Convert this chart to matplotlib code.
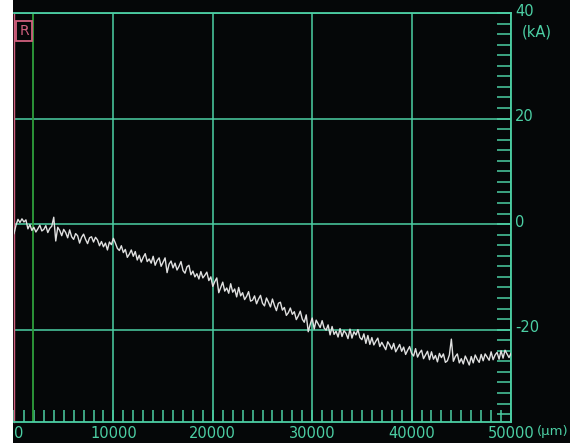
import numpy as np
import matplotlib.pyplot as plt
from matplotlib.patches import Rectangle
import matplotlib.transforms as mtransforms

# profile, one reading every 200 um
x_um = np.arange(0, 50001, 200)
current_ka = [
    -1.8, -0.2, 0.9, 0.3, 1.0,  0.4, 0.8, -0.9, -0.1, -1.2,
    -0.6, -1.5, -0.9, -0.2, -1.3,  -1.0, -0.3, -1.6, -0.8, -0.4,
    1.3, -3.2, -0.6, -1.2, -2.2,  -1.0, -1.6, -2.6, -1.1, -2.4,
    -2.9, -1.8, -2.2, -3.6, -2.5,  -1.9, -2.9, -3.7, -2.6, -2.4,
    -3.4, -2.5, -3.0, -4.1, -3.3,  -4.3, -3.6, -4.9, -3.4, -3.9,
    -2.7, -3.6, -4.6, -5.0, -4.1,  -5.4, -4.8, -6.3, -5.7, -4.9,
    -6.1, -5.2, -6.8, -5.9, -7.2,  -6.3, -5.6, -7.1, -6.6, -7.4,
    -6.1, -7.8, -6.9, -6.4, -8.0,  -7.2, -6.4, -9.2, -7.6, -7.0,
    -8.3, -7.4, -8.7, -8.0, -7.1,  -8.8, -9.3, -8.1, -7.8, -9.6,
    -8.9, -10.0, -9.4, -10.4, -9.0,  -10.2, -9.7, -9.1, -10.7, -10.0,
    -11.8, -10.9, -10.2, -13.0, -12.0,  -11.0, -12.7, -12.1, -13.1, -11.3,
    -12.9, -12.3, -13.8, -12.0, -13.6,  -13.0, -14.3, -13.7, -12.8, -14.6,
    -14.4, -13.6, -15.1, -14.2, -13.5,  -15.0, -15.5, -14.0, -14.8, -15.7,
    -14.2, -15.4, -16.4, -15.0, -14.8,  -16.3, -15.8, -17.3, -16.8, -15.9,
    -17.1, -16.6, -18.1, -17.4, -16.5,  -18.0, -18.6, -17.2, -20.4, -19.0,
    -17.8, -19.9, -18.2, -18.9, -19.6,  -18.3, -19.7, -20.1, -19.1, -21.0,
    -19.4, -20.9, -20.3, -21.4, -19.8,  -21.3, -20.2, -20.7, -21.7, -19.9,
    -21.6, -20.4, -21.0, -20.0, -21.5,  -21.9, -20.8, -22.6, -21.1, -22.8,
    -21.5, -22.9, -22.2, -21.6, -23.2,  -22.4, -23.1, -23.8, -22.3, -22.9,
    -23.7, -22.6, -24.2, -23.5, -22.8,  -24.1, -23.3, -24.7, -23.9, -23.2,
    -24.5, -25.0, -23.6, -25.2, -24.4,  -23.9, -25.5, -24.8, -24.1, -25.7,
    -24.2, -25.6, -24.9, -26.1, -24.5,  -25.3, -24.6, -26.2, -25.9, -24.8,
    -21.8, -26.0, -25.1, -24.6, -26.3,  -25.5, -26.5, -25.0, -25.8, -26.7,
    -25.1, -26.3, -24.8, -25.6, -26.2,  -24.7, -25.9, -24.6, -25.2, -25.8,
    -24.2, -25.7, -24.8, -24.3, -25.6,  -24.0, -25.4, -23.9, -24.6, -25.3,
    -24.5,
]
xticks = [0, 10000, 20000, 30000, 40000, 50000]
xticklabels = ['0', '10000', '20000', '30000', '40000', '50000']
yticks = [-20, 0, 20, 40]
yticklabels = ['-20', '0', '20', '40']
cursor_x = 1900

teal = '#4ccfa4'
pink = '#d0607e'
fs = 10.5

plt.rcParams['font.family'] = 'DejaVu Sans'

fig = plt.figure(figsize=(5.7, 4.43), dpi=100, facecolor='#050708')
fig.patches.append(Rectangle((0, 0), 13 / 570, 1, transform=fig.transFigure,
                             facecolor='white', edgecolor='none', zorder=0))
ax = fig.add_axes([14 / 570, 21 / 443, 497 / 570, 409 / 443])
ax.set_facecolor('#050708')

ax.plot(x_um, current_ka, color='#e0e0e0', lw=1.0, zorder=3)
ax.axvline(cursor_x, color='#2f9e3c', lw=1.3, zorder=2)

ax.set_xlim(0, 50000)
ax.set_ylim(-37.5, 40)

ax.set_xticks(xticks)
ax.set_xticklabels(xticklabels)
ax.set_xticks(np.arange(0, 50001, 1000), minor=True)
ax.set_yticks(yticks)
ax.set_yticklabels(yticklabels)
ax.set_yticks(np.arange(-36, 41, 2), minor=True)
ax.yaxis.tick_right()

ax.grid(True, which='major', color=teal, lw=1.1)
ax.tick_params(axis='both', which='both', direction='in', color=teal,
               labelcolor=teal, labelsize=fs, width=1.1)
ax.tick_params(axis='x', which='both', length=9, pad=3)
ax.tick_params(axis='y', which='both', length=10, pad=3)

labs = ax.get_xticklabels()
labs[0].set_horizontalalignment('left')
up = mtransforms.ScaledTranslation(0, 2.5 / 72, fig.dpi_scale_trans)
for lab in ax.get_yticklabels():
    lab.set_transform(lab.get_transform() + up)

for side in ['top', 'right', 'bottom']:
    ax.spines[side].set_color(teal)
    ax.spines[side].set_linewidth(1.3)
ax.spines['left'].set_color(pink)
ax.spines['left'].set_linewidth(1.0)

fig.text(522 / 570, 1 - 32 / 443, '(kA)', color=teal, fontsize=fs,
         ha='left', va='center')
fig.text(537 / 570, 1 - 432 / 443, '(\u03bcm)', color=teal, fontsize=9.5,
         ha='left', va='center')
fig.text(24 / 570, 1 - 31 / 443, 'R', color=pink, fontsize=10,
         ha='center', va='center',
         bbox=dict(boxstyle='square,pad=0.25', facecolor='none',
                   edgecolor=pink, lw=1.3))

plt.savefig('out.png', dpi=100, facecolor=fig.get_facecolor())
